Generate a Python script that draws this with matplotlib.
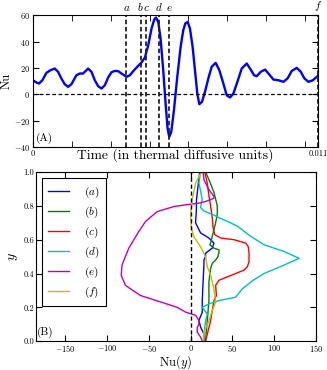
import matplotlib
matplotlib.use('Agg')
import matplotlib.pyplot as plt
import matplotlib.transforms as mtransforms
import numpy as np

plt.rcParams['font.family'] = 'serif'
plt.rcParams['font.serif'] = ['cmr10', 'DejaVu Serif']
plt.rcParams['mathtext.fontset'] = 'cm'
plt.rcParams['axes.formatter.use_mathtext'] = True
plt.rcParams['axes.unicode_minus'] = False

# --- panel A: Nu vs time (time in units of 1e-3) ---
tiempo = [0, 0.129, 0.232, 0.361, 0.516, 0.671, 0.838, 0.967, 1.096, 1.225,
          1.354, 1.483, 1.676, 1.805, 1.934, 2.128, 2.257, 2.386, 2.515, 2.644,
          2.773, 2.902, 3.031, 3.160, 3.289, 3.417, 3.611, 3.740, 3.869, 4.024,
          4.191, 4.320, 4.449, 4.578, 4.681, 4.746, 4.836, 4.926, 5.029, 5.120,
          5.197, 5.262, 5.339, 5.442, 5.571, 5.700, 5.803, 5.881, 5.971, 6.061,
          6.164, 6.267, 6.345, 6.422, 6.525, 6.641, 6.770, 6.899, 7.054, 7.196,
          7.351, 7.480, 7.609, 7.738, 7.892, 8.060, 8.253, 8.408, 8.537, 8.640,
          8.795, 8.963, 9.092, 9.285, 9.479, 9.672, 9.827, 9.995, 10.188, 10.342,
          10.484, 10.639, 10.807, 10.987]
nu = [10.6, 8.9, 8.1, 10.6, 16.2, 18.2, 19.5, 17.0, 11.9, 7.6,
      5.6, 7.6, 14.4, 15.7, 15.7, 19.5, 17.0, 10.6, 6.1, 4.3,
      6.8, 12.7, 16.7, 17.7, 17.5, 15.7, 13.2, 14.4, 17.5, 20.8,
      24.1, 27.8, 37.2, 49.9, 56.7, 58.2, 54.9, 42.3, 18.2, -7.1,
      -26.1, -32.4, -28.6, -12.2, 13.2, 35.9, 48.6, 53.7, 54.9, 49.9,
      35.9, 15.7, 0.5, -7.6, -5.8, 1.8, 11.9, 20.8, 23.8, 18.2,
      8.1, -0.8, -2.5, 0.5, 9.4, 19.5, 23.3, 18.7, 14.4, 13.7,
      17.0, 18.7, 15.7, 11.1, 10.6, 9.4, 11.9, 17.7, 20.0, 17.0,
      11.9, 9.4, 10.6, 13.7]
letras = ['a', 'b', 'c', 'd', 'e', 'f']
t_letras = [0.00361, 0.004165, 0.00436, 0.00485, 0.00526, 0.011]
desplaz = [0, -0.6, 0.6, 0, 0, 0]  # points, so b and c don't collide

# --- panel B: Nu(y) profiles ---
y_a = [0, 0.043, 0.083, 0.123, 0.17, 0.24, 0.35, 0.45, 0.48, 0.50, 0.52, 0.55, 0.58, 0.61, 0.64, 0.70, 0.78, 0.83, 0.92, 1.0]
nu_a = [16, 16, 12, 10, 14, 14, 15, 16, 16, 18, 18, 26, 28, 22, 12, 6, 7, 7, 9, 11]
y_b = [0, 0.12, 0.24, 0.35, 0.43, 0.46, 0.48, 0.50, 0.51, 0.52, 0.54, 0.55, 0.57, 0.58, 0.62, 0.70, 0.75, 0.80, 0.88, 0.955, 1.0]
nu_b = [18, 20, 22, 22, 24, 26, 30, 33, 33, 34, 34, 28, 23, 24, 26, 30, 32, 32, 28, 22, 18]
y_c = [0, 0.12, 0.24, 0.27, 0.33, 0.36, 0.38, 0.40, 0.42, 0.44, 0.47, 0.52, 0.56, 0.58, 0.60, 0.61, 0.63, 0.67, 0.73, 0.80, 0.86, 0.935, 1.0]
nu_c = [18, 24, 28, 31, 30, 34, 44, 54, 64, 68, 70, 70, 69, 66, 52, 36, 29, 27, 26, 24, 22, 20, 17]
y_d = [0, 0.043, 0.12, 0.16, 0.20, 0.22, 0.24, 0.26, 0.31, 0.36, 0.40, 0.45, 0.49, 0.53, 0.57, 0.62, 0.68, 0.70, 0.73, 0.75, 0.77, 0.79, 0.84, 0.935, 1.0]
nu_d = [16, 16, 18, 20, 14, 22, 34, 54, 62, 75, 88, 112, 130, 112, 88, 72, 56, 48, 34, 26, 16, 12, 14, 10, 12]
y_e = [0, 0.024, 0.053, 0.08, 0.10, 0.123, 0.153, 0.172, 0.20, 0.232, 0.27, 0.33, 0.39, 0.45, 0.549, 0.648, 0.707, 0.766, 0.796, 0.806, 0.816, 0.826, 0.845, 0.856, 0.896, 0.955, 1.0]
nu_e = [14, 12, 8, 8, 10, 10, 6, -6, -16, -36, -60, -78, -83, -82, -74, -62, -54, -40, -20, -6, 10, 18, 28, 28, 22, 16, 15]
y_f = [0, 0.053, 0.12, 0.18, 0.23, 0.31, 0.39, 0.44, 0.50, 0.558, 0.618, 0.67, 0.75, 0.836, 0.935, 0.99, 1.0]
nu_f = [15, 16, 22, 26, 30, 28, 24, 20, 18, 12, 4, 1, 0, 2, 6, 12, 14]

perfiles = [(nu_a, y_a), (nu_b, y_b), (nu_c, y_c), (nu_d, y_d), (nu_e, y_e), (nu_f, y_f)]
colores = ['b', 'g', 'r', 'c', 'm', 'y']

fig = plt.figure(figsize=(3.27, 3.70), dpi=100)
ax1 = fig.add_axes([0.101, 0.603, 0.871, 0.356])
ax2 = fig.add_axes([0.110, 0.078, 0.856, 0.457])

# panel A
ax1.plot(np.array(tiempo) * 1e-3, nu, color='b', lw=1.7)
ax1.axhline(0, color='k', ls='--', lw=0.9, dashes=(3, 2))
trans = mtransforms.blended_transform_factory(ax1.transData, ax1.transAxes)
for letra, tl, dx in zip(letras, t_letras, desplaz):
    ax1.axvline(tl, color='#222222', ls='--', lw=1.3, dashes=(2.5, 1.5))
    ax1.annotate('$' + letra + '$', xy=(tl, 1.0), xycoords=trans,
                 xytext=(dx, 1.5), textcoords='offset points',
                 ha='center', va='bottom', fontsize=8)
ax1.set_xlim(0, 0.011)
ax1.set_ylim(-40, 60)
ax1.set_yticks([-40, -20, 0, 20, 40, 60])
ax1.set_xticks([0, 0.011])
ax1.set_xticklabels(['0', '0.011'])
ax1.set_xticks(np.arange(0.0015, 0.011, 0.0015), minor=True)
ax1.tick_params(direction='in', top=True, right=True, labelsize=6, length=4, pad=2)
ax1.tick_params(which='minor', direction='in', top=True, length=4)
ax1.set_xlabel('Time (in thermal diffusive units)', fontsize=9.8)
ax1.xaxis.set_label_coords(0.5, -0.012)
ax1.set_ylabel('Nu', fontsize=9)
ax1.yaxis.set_label_coords(-0.072, 0.5)
ax1.text(0.01, 0.02, '(A)', transform=ax1.transAxes, fontsize=8, ha='left', va='bottom')

# panel B
for (xs, ys), col, letra in zip(perfiles, colores, letras):
    ax2.plot(xs, ys, color=col, lw=1.0, label='$(' + letra + ')$')
ax2.axvline(0, color='k', ls='--', lw=1.0, dashes=(3, 2))
ax2.set_xlim(-185, 150)
ax2.set_ylim(0, 1)
ax2.set_xticks([-150, -100, -50, 0, 50, 100, 150])
ax2.set_yticks([0, 0.2, 0.4, 0.6, 0.8, 1.0])
ax2.set_yticklabels(['0.0', '0.2', '0.4', '0.6', '0.8', '1.0'])
ax2.tick_params(direction='in', top=True, right=True, labelsize=6, length=4, pad=1.5)
ax2.set_xlabel('Nu$(y)$', fontsize=9, labelpad=-1)
ax2.set_ylabel('$y$', fontsize=10, labelpad=2)
ax2.text(0.005, 0.02, '(B)', transform=ax2.transAxes, fontsize=8, ha='left', va='bottom')
leg = ax2.legend(loc='upper left', bbox_to_anchor=(0.02, 0.965), fontsize=8,
                 handlelength=1.9, handletextpad=1.3, labelspacing=0.42,
                 borderpad=0.6, fancybox=False, framealpha=1, borderaxespad=0)
leg.get_frame().set_edgecolor('k')
leg.get_frame().set_linewidth(0.8)

fig.savefig('out.png', dpi=100)
